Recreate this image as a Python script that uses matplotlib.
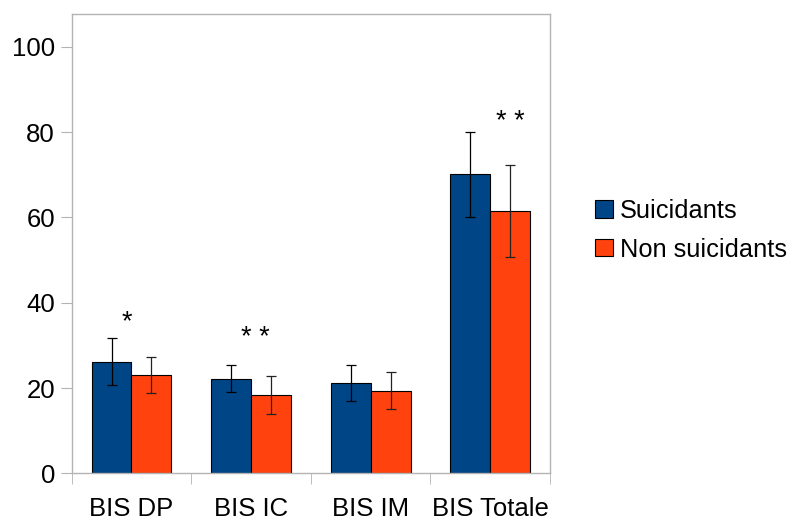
import numpy as np
import matplotlib.pyplot as plt
from matplotlib.patches import Patch

categories = ["BIS DP", "BIS IC", "BIS IM", "BIS Totale"]
suicidants = [26.2, 22.2, 21.1, 70.1]
suicidants_err = [5.5, 3.2, 4.2, 10.0]
non_suicidants = [23.1, 18.4, 19.4, 61.5]
non_suicidants_err = [4.2, 4.5, 4.4, 10.7]
series_names = ["Suicidants", "Non suicidants"]
# significance marks: (x offset from group centre, height, text)
stars = [(-0.04, 35.4, "*"), (0.04, 31.8, "* *"), (None, None, None), (0.17, 82.5, "* *")]

blue = "#004586"
orange = "#ff420e"
grey = "#b3b3b3"

plt.rcParams['font.family'] = ['Liberation Sans', 'DejaVu Sans']

fig = plt.figure(figsize=(7.95, 5.22), dpi=100)
ax = fig.add_axes([0.0902, 0.0933, 0.6016, 0.8805])

x = np.arange(len(categories))
w = 0.334
ax.bar(x - w / 2, suicidants, w, color=blue, edgecolor="black", linewidth=0.8)
ax.bar(x + w / 2, non_suicidants, w, color=orange, edgecolor="black", linewidth=0.8)
ax.errorbar(x - w / 2, suicidants, yerr=suicidants_err, fmt="none", ecolor="black",
            elinewidth=0.9, capsize=3.8, capthick=0.9)
ax.errorbar(x + w / 2, non_suicidants, yerr=non_suicidants_err, fmt="none", ecolor="#222222",
            elinewidth=0.9, capsize=3.8, capthick=0.9)

for i, (dx, h, txt) in enumerate(stars):
    if txt:
        ax.text(x[i] + dx, h, txt, ha="center", va="center", fontsize=19.5)

ax.set_xlim(-0.5, len(categories) - 0.5)
ax.set_ylim(0, 107.8)
ax.set_yticks([0, 20, 40, 60, 80, 100])
ax.set_xticks(x)
ax.set_xticklabels(categories)
ax.set_xticks(np.arange(len(categories) + 1) - 0.5, minor=True)

for s in ax.spines.values():
    s.set_color(grey)
    s.set_linewidth(1)

ax.tick_params(axis="y", length=8, color=grey, labelsize=18.5, pad=4)
ax.tick_params(axis="x", which="major", length=0, labelsize=18.5, pad=17)
ax.tick_params(axis="x", which="minor", length=8, color=grey)

handles = [Patch(facecolor=blue, edgecolor="black", linewidth=0.8),
           Patch(facecolor=orange, edgecolor="black", linewidth=0.8)]
fig.legend(handles, series_names, loc="center left", bbox_to_anchor=(0.72, 0.559),
           frameon=False, fontsize=18.3, handlelength=0.68, handleheight=0.68,
           handletextpad=0.3, labelspacing=0.58)

fig.savefig("out.png", dpi=100)
